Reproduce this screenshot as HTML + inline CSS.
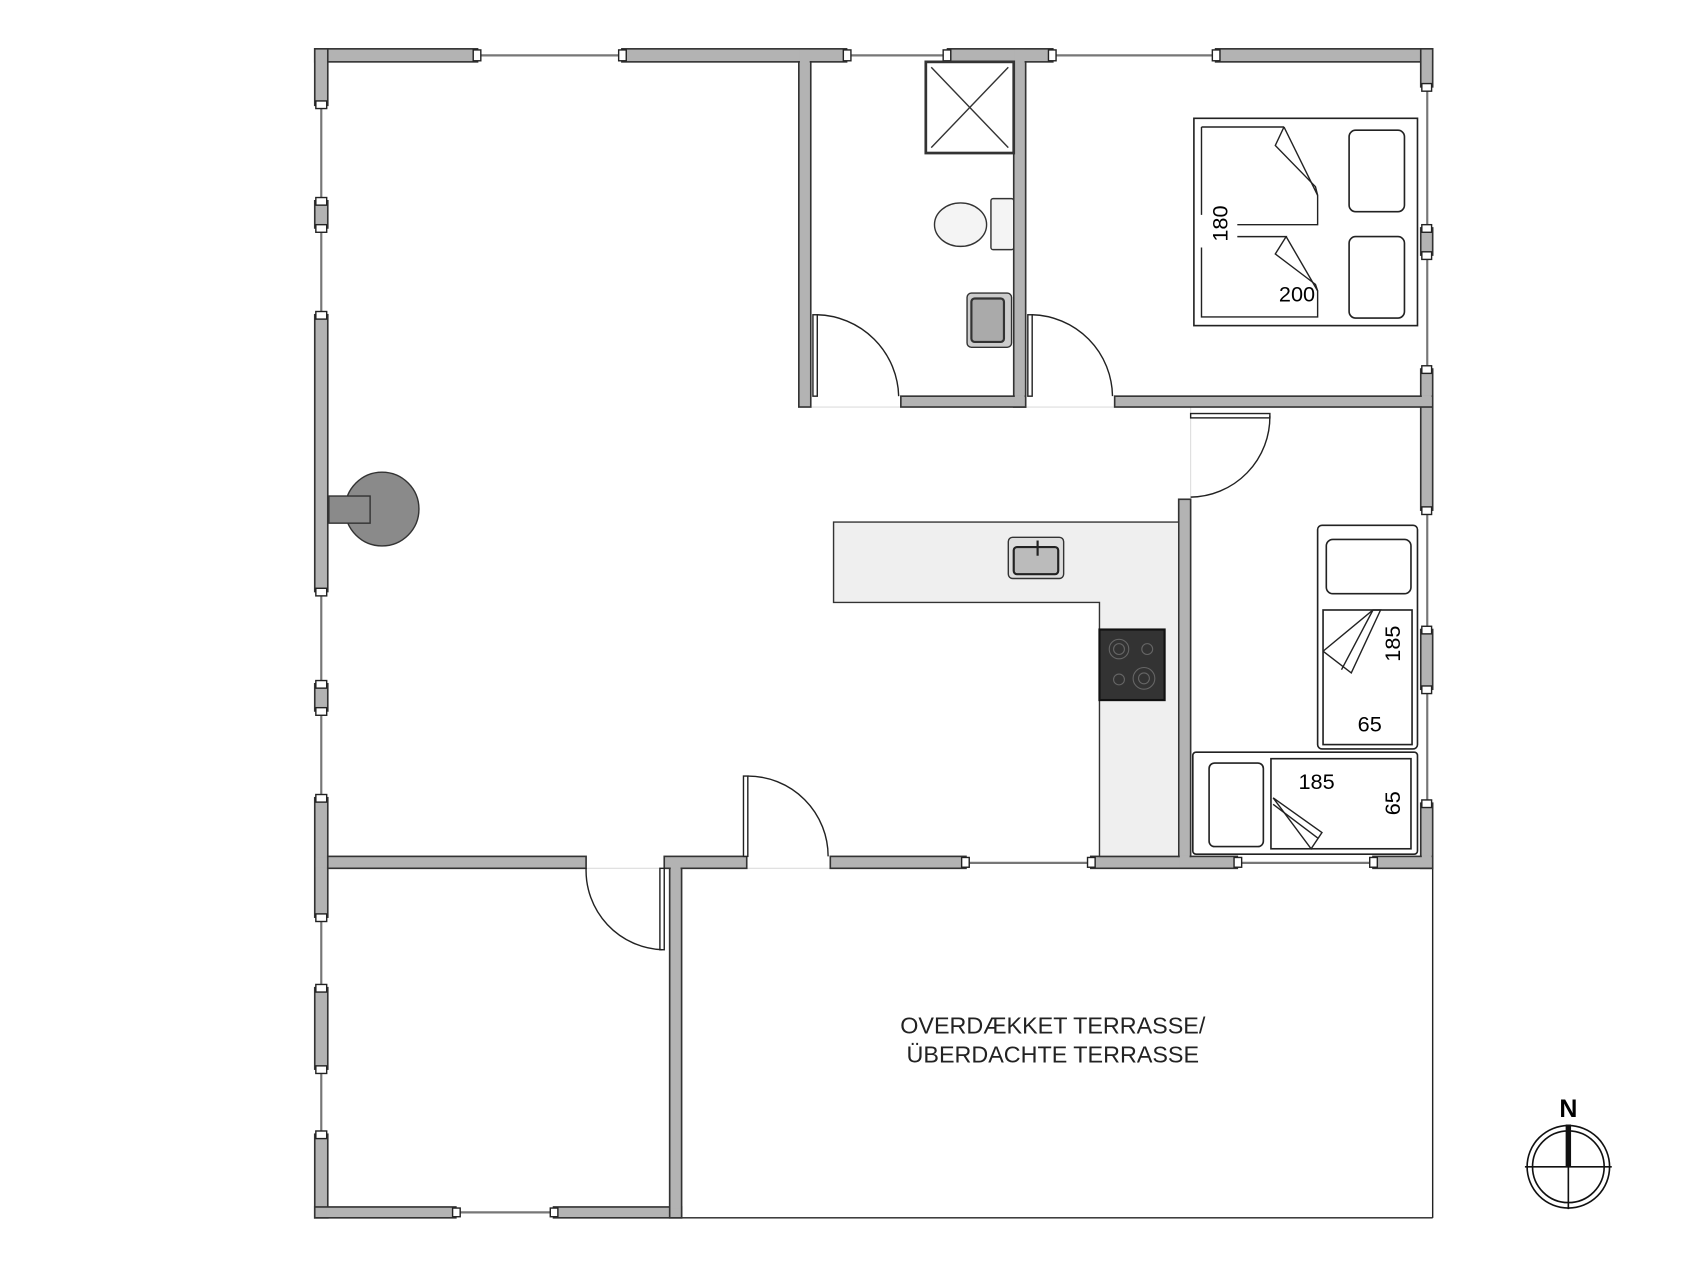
<!DOCTYPE html>
<html><head><meta charset="utf-8"><style>html,body{margin:0;padding:0;background:#fff}svg{display:block}</style></head>
<body>
<svg width="1700" height="1271" viewBox="0 0 1566.3 1171" preserveAspectRatio="none" xmlns="http://www.w3.org/2000/svg" font-family="Liberation Sans, sans-serif">
<rect width="1566.3" height="1171" fill="#fff"/>
<g stroke="#222" stroke-width="1.3" fill="none">
<line x1="628" y1="1122" x2="1320" y2="1122"/>
<line x1="1320" y1="800" x2="1320" y2="1122"/>
</g>
<g stroke="#777" stroke-width="2">
<line x1="440" y1="51" x2="573" y2="51"/><line x1="780" y1="51" x2="873" y2="51"/><line x1="970" y1="51" x2="1120" y2="51"/>
<line x1="296" y1="97" x2="296" y2="185"/><line x1="296" y1="210" x2="296" y2="290"/><line x1="296" y1="545" x2="296" y2="630"/><line x1="296" y1="655" x2="296" y2="735"/><line x1="296" y1="845" x2="296" y2="910"/><line x1="296" y1="985" x2="296" y2="1045"/>
<line x1="1315" y1="80" x2="1315" y2="210"/><line x1="1315" y1="235" x2="1315" y2="340"/><line x1="1315" y1="470" x2="1315" y2="580"/><line x1="1315" y1="635" x2="1315" y2="740"/>
<line x1="890" y1="795" x2="1005" y2="795"/><line x1="1140" y1="795" x2="1265" y2="795"/><line x1="420" y1="1117" x2="510" y2="1117"/>
</g>
<g stroke="#ddd" stroke-width="1">
<line x1="540" y1="800" x2="612" y2="800"/><line x1="688" y1="800" x2="765" y2="800"/><line x1="747" y1="375" x2="830" y2="375"/><line x1="945" y1="375" x2="1027" y2="375"/><line x1="1097" y1="375" x2="1097" y2="460"/>
</g>
<g fill="#b3b3b3" stroke="#333" stroke-width="1.5">
<rect x="290" y="45" width="150" height="12"/><rect x="573" y="45" width="207" height="12"/><rect x="873" y="45" width="97" height="12"/><rect x="1120" y="45" width="200" height="12"/>
<rect x="290" y="45" width="12" height="52"/><rect x="290" y="185" width="12" height="25"/><rect x="290" y="290" width="12" height="255"/><rect x="290" y="630" width="12" height="25"/><rect x="290" y="735" width="12" height="110"/><rect x="290" y="910" width="12" height="75"/><rect x="290" y="1045" width="12" height="77"/>
<rect x="1309" y="45" width="11" height="35"/><rect x="1309" y="210" width="11" height="25"/><rect x="1309" y="340" width="11" height="130"/><rect x="1309" y="580" width="11" height="55"/><rect x="1309" y="740" width="11" height="60"/>
<rect x="302" y="789" width="238" height="11"/><rect x="612" y="789" width="76" height="11"/><rect x="765" y="789" width="125" height="11"/><rect x="1005" y="789" width="135" height="11"/><rect x="1265" y="789" width="55" height="11"/>
<rect x="290" y="1112" width="130" height="10"/><rect x="510" y="1112" width="118" height="10"/>
<rect x="617" y="800" width="11" height="322"/>
<rect x="736" y="57" width="11" height="318"/><rect x="934" y="57" width="11" height="318"/>
<rect x="830" y="365" width="115" height="10"/><rect x="1027" y="365" width="293" height="10"/>
<rect x="1086" y="460" width="11" height="329"/>
</g>
<!-- hide joints at corners -->
<g fill="#b3b3b3">
<rect x="291" y="46" width="10" height="10"/><rect x="1310" y="46" width="9" height="10"/><rect x="291" y="790" width="10" height="9"/><rect x="291" y="1113" width="10" height="8"/><rect x="618" y="1113" width="9" height="8"/><rect x="618" y="790" width="9" height="12"/><rect x="737" y="46" width="9" height="13"/><rect x="935" y="46" width="9" height="13"/><rect x="935" y="364" width="9" height="10"/><rect x="1310" y="364" width="9" height="10"/><rect x="1310" y="788" width="9" height="11"/><rect x="1087" y="788" width="9" height="11"/>
</g>
<g fill="#fff" stroke="#222" stroke-width="1.3">
<rect x="436" y="46" width="7" height="10"/><rect x="570" y="46" width="7" height="10"/><rect x="777" y="46" width="7" height="10"/><rect x="869" y="46" width="7" height="10"/><rect x="966" y="46" width="7" height="10"/><rect x="1117" y="46" width="7" height="10"/>
<rect x="291" y="93" width="10" height="7"/><rect x="291" y="182" width="10" height="7"/><rect x="291" y="207" width="10" height="7"/><rect x="291" y="287" width="10" height="7"/><rect x="291" y="542" width="10" height="7"/><rect x="291" y="627" width="10" height="7"/><rect x="291" y="652" width="10" height="7"/><rect x="291" y="732" width="10" height="7"/><rect x="291" y="842" width="10" height="7"/><rect x="291" y="907" width="10" height="7"/><rect x="291" y="982" width="10" height="7"/><rect x="291" y="1042" width="10" height="7"/>
<rect x="1310" y="77" width="9" height="7"/><rect x="1310" y="207" width="9" height="7"/><rect x="1310" y="232" width="9" height="7"/><rect x="1310" y="337" width="9" height="7"/><rect x="1310" y="467" width="9" height="7"/><rect x="1310" y="577" width="9" height="7"/><rect x="1310" y="632" width="9" height="7"/><rect x="1310" y="737" width="9" height="7"/>
<rect x="886" y="790" width="7" height="9"/><rect x="1002" y="790" width="7" height="9"/><rect x="1137" y="790" width="7" height="9"/><rect x="1262" y="790" width="7" height="9"/>
<rect x="417" y="1113" width="7" height="8"/><rect x="507" y="1113" width="7" height="8"/>
</g>
<g fill="none" stroke="#222" stroke-width="1.3">
<rect x="749" y="290" width="4" height="75" fill="#fff"/><path d="M753 290 A77 77 0 0 1 828 365"/>
<rect x="947" y="290" width="4" height="75" fill="#fff"/><path d="M951 290 A76 76 0 0 1 1025 365"/>
<rect x="1097" y="381" width="73" height="4" fill="#fff"/><path d="M1170 383 A74 74 0 0 1 1097 458"/>
<rect x="685" y="715" width="4" height="74" fill="#fff"/><path d="M689 715 A74 74 0 0 1 763 789"/>
<rect x="608" y="800" width="4" height="75" fill="#fff"/><path d="M540 800 A73 73 0 0 0 610 875"/>
</g>
<circle cx="352" cy="469" r="34" fill="#8a8a8a" stroke="#333" stroke-width="1.3"/>
<rect x="303" y="457" width="38" height="25" fill="#8a8a8a" stroke="#333" stroke-width="1.3"/>
<path d="M768 481 H1086 V789 H1013 V555 H768 Z" fill="#efefef" stroke="#333" stroke-width="1.3"/>
<rect x="929" y="495" width="51" height="38" rx="4" fill="#ddd" stroke="#333" stroke-width="1.3"/>
<rect x="934" y="504" width="41" height="25" rx="3" fill="#bbb" stroke="#222" stroke-width="2"/>
<line x1="956" y1="498" x2="956" y2="512" stroke="#222" stroke-width="2"/>
<rect x="1013" y="580" width="60" height="65" fill="#333" stroke="#111" stroke-width="2"/>
<g fill="none" stroke="#666"><circle cx="1031" cy="598" r="9"/><circle cx="1031" cy="598" r="5"/><circle cx="1057" cy="598" r="5"/><circle cx="1031" cy="626" r="5"/><circle cx="1054" cy="625" r="10"/><circle cx="1054" cy="625" r="5"/></g>
<g stroke="#333" stroke-width="1.3">
<rect x="853" y="57" width="81" height="84" fill="#fff" stroke-width="2.5"/>
<line x1="858" y1="62" x2="929" y2="136"/><line x1="929" y1="62" x2="858" y2="136"/>
<rect x="913" y="183" width="21" height="47" rx="2" fill="#f4f4f4"/>
<ellipse cx="885" cy="207" rx="24" ry="20" fill="#f4f4f4"/>
<rect x="891" y="270" width="41" height="50" rx="4" fill="#ccc"/>
<rect x="895" y="275" width="30" height="40" rx="3" fill="#aaa" stroke-width="2"/>
</g>
<!-- double bed -->
<g fill="#fff" stroke="#222" stroke-width="1.5">
<rect x="1100" y="109" width="206" height="191"/>
<rect x="1243" y="120" width="51" height="75" rx="6"/>
<rect x="1243" y="218" width="51" height="75" rx="6"/>
</g>
<g fill="none" stroke="#222" stroke-width="1.3">
<path d="M1107 117 H1183 M1107 117 V198"/>
<path d="M1183 117 L1175 134 L1212 172 L1214 180 V207 H1140"/>
<path d="M1183 117 L1214 180"/>
<path d="M1140 218 H1185 L1175 234 L1212 262 L1214 268 V292 H1107 V228"/>
<path d="M1185 218 L1214 268"/>
</g>
<text font-size="20" transform="translate(1131,206) rotate(-90)" text-anchor="middle">180</text>
<text x="1195" y="278" font-size="20" text-anchor="middle">200</text>
<!-- bunk beds -->
<g fill="#fff" stroke="#222" stroke-width="1.5">
<rect x="1214" y="484" width="92" height="206" rx="4"/>
<rect x="1222" y="497" width="78" height="50" rx="6"/>
<rect x="1219" y="562" width="82" height="124"/>
<rect x="1099" y="693" width="207" height="94" rx="3"/>
<rect x="1114" y="703" width="50" height="77" rx="5"/>
<rect x="1171" y="699" width="129" height="83"/>
</g>
<g fill="none" stroke="#222" stroke-width="1.3">
<path d="M1219 600 L1265 562 L1272 562 L1245 620 L1219 600"/>
<path d="M1265 562 L1236 617"/>
<path d="M1173 735 L1218 767 L1208 782 L1173 735"/>
<path d="M1173 741 L1214 772"/>
</g>
<text font-size="20" transform="translate(1290,593) rotate(-90)" text-anchor="middle">185</text>
<text x="1262" y="674" font-size="20" text-anchor="middle">65</text>
<text x="1213" y="727" font-size="20" text-anchor="middle">185</text>
<text font-size="20" transform="translate(1290,740) rotate(-90)" text-anchor="middle">65</text>
<text x="970" y="952" font-size="21.5" text-anchor="middle" fill="#222">OVERDÆKKET TERRASSE/</text>
<text x="970" y="979" font-size="21.5" text-anchor="middle" fill="#222">ÜBERDACHTE TERRASSE</text>
<g fill="none" stroke="#111" stroke-width="1.5">
<circle cx="1445" cy="1075" r="38"/><circle cx="1445" cy="1075" r="33"/>
<line x1="1405" y1="1075" x2="1485" y2="1075"/><line x1="1445" y1="1075" x2="1445" y2="1114"/>
</g>
<line x1="1445" y1="1036" x2="1445" y2="1075" stroke="#111" stroke-width="5"/>
<text x="1445" y="1029" font-size="23" font-weight="bold" text-anchor="middle">N</text>
</svg>
</body></html>
